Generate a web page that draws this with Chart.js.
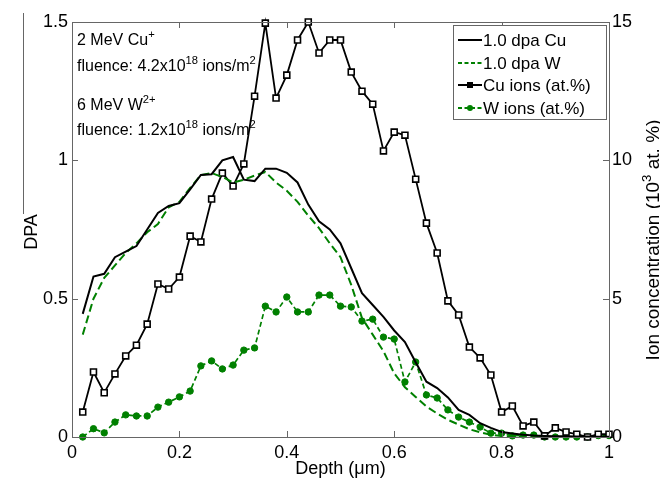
<!DOCTYPE html>
<html>
<head>
<meta charset="utf-8">
<script src="https://cdn.jsdelivr.net/npm/chart.js@4"></script>
<style>
  html, body { margin: 0; padding: 0; background: #fff; }
  #wrap { width: 660px; height: 479px; }
</style>
</head>
<body>
<div id="wrap"><canvas id="chart" width="660" height="479"></canvas></div>
<script>
// depth in um
const depth = [0.02, 0.04, 0.06, 0.08, 0.10, 0.12, 0.14, 0.16, 0.18, 0.20,
               0.22, 0.24, 0.26, 0.28, 0.30, 0.32, 0.34, 0.36, 0.38, 0.40,
               0.42, 0.44, 0.46, 0.48, 0.50, 0.52, 0.54, 0.56, 0.58, 0.60,
               0.62, 0.64, 0.66, 0.68, 0.70, 0.72, 0.74, 0.76, 0.78, 0.80,
               0.82, 0.84, 0.86, 0.88, 0.90, 0.92, 0.94, 0.96, 0.98, 1.00];

// damage (left axis)
const dpaCu = [0.445, 0.58, 0.59, 0.65, 0.67, 0.69, 0.75, 0.81, 0.835, 0.845,
               0.895, 0.947, 0.95, 1.0, 1.012, 0.93, 0.925, 0.97, 0.97, 0.955,
               0.92, 0.84, 0.78, 0.75, 0.70, 0.61, 0.52, 0.477, 0.434, 0.385,
               0.343, 0.27, 0.20, 0.177, 0.143, 0.098, 0.08, 0.05, 0.033, 0.018,
               0.013, 0.008, 0.005, 0.004, 0.003, 0.003, 0.002, 0.002, 0.001, 0.001];
const dpaW  = [0.37, 0.50, 0.575, 0.62, 0.665, 0.70, 0.74, 0.77, 0.83, 0.85,
               0.90, 0.947, 0.954, 0.94, 0.92, 0.93, 0.945, 0.958, 0.92, 0.89,
               0.85, 0.80, 0.755, 0.70, 0.65, 0.55, 0.43, 0.37, 0.31, 0.23,
               0.18, 0.145, 0.11, 0.085, 0.062, 0.045, 0.028, 0.017, 0.008, 0.004,
               0.002, 0.001, 0.001, 0.001, 0, 0, 0, 0, 0, 0];

// implanted ions (right axis)
const cuIons = [0.9, 2.35, 1.6, 2.28, 2.93, 3.32, 4.08, 5.53, 5.35, 5.78,
                7.26, 7.05, 8.6, 9.54, 9.07, 9.87, 12.32, 14.96, 12.25, 13.08,
                14.35, 15.0, 13.88, 14.35, 14.35, 13.19, 12.5, 12.03, 10.34, 11.02,
                10.91, 9.32, 7.73, 6.65, 4.92, 4.41, 3.25, 2.86, 2.24, 0.9,
                1.12, 0.4, 0.54, 0.04, 0.33, 0.18, 0.1, 0, 0.1, 0.1];
const wIons  = [0, 0.3, 0.15, 0.54, 0.8, 0.76, 0.76, 1.08, 1.26, 1.45,
                1.66, 2.57, 2.75, 2.46, 2.6, 3.14, 3.22, 4.73, 4.52, 5.06,
                4.52, 4.52, 5.13, 5.13, 4.73, 4.7, 4.19, 4.26, 3.61, 3.54,
                1.99, 2.71, 1.52, 1.41, 0.98, 0.72, 0.54, 0.36, 0.14, 0.14,
                0.04, 0.07, 0.07, 0, 0, 0, 0, 0, 0.05, 0.05];

const xTicks = [0, 0.2, 0.4, 0.6, 0.8, 1];
const yTicks = [0, 0.5, 1, 1.5];
const y2Ticks = [0, 5, 10, 15];

const labels = ['1.0 dpa Cu', '1.0 dpa W', 'Cu ions (at.%)', 'W ions (at.%)'];

const GREEN = 'rgb(0,128,0)';
const FONT = "'Liberation Sans', Arial, sans-serif";

function pts(ys) { return depth.map((d, i) => ({ x: d, y: ys[i] })); }
function fmt(v) { return String(+v.toFixed(2)); }

// text with superscripts, parts = [[text, isSup], ...]
function richWidth(ctx, parts, size) {
  let w = 0;
  parts.forEach(p => {
    ctx.font = (p[1] ? size * 0.7 : size) + 'px ' + FONT;
    w += ctx.measureText(p[0]).width;
  });
  return w;
}
function drawRich(ctx, parts, x, y, size) {
  parts.forEach(p => {
    const s = p[1] ? size * 0.7 : size;
    ctx.font = s + 'px ' + FONT;
    ctx.fillText(p[0], x, p[1] ? y - size * 0.42 : y);
    x += ctx.measureText(p[0]).width;
  });
}

const decor = {
  id: 'decor',
  afterDraw(chart) {
    const ctx = chart.ctx;
    const a = chart.chartArea;
    const sx = chart.scales.x, sy = chart.scales.y, sy2 = chart.scales.y2;
    ctx.save();

    // axes box + inward ticks
    ctx.strokeStyle = '#666';
    ctx.lineWidth = 1;
    ctx.strokeRect(a.left + 0.5, a.top + 0.5, a.right - a.left, a.bottom - a.top);
    ctx.beginPath();
    xTicks.forEach(t => {
      const px = Math.round(sx.getPixelForValue(t)) + 0.5;
      ctx.moveTo(px, a.bottom); ctx.lineTo(px, a.bottom - 6);
      ctx.moveTo(px, a.top); ctx.lineTo(px, a.top + 6);
    });
    yTicks.forEach(t => {
      const py = Math.round(sy.getPixelForValue(t)) + 0.5;
      ctx.moveTo(a.left, py); ctx.lineTo(a.left + 6, py);
    });
    y2Ticks.forEach(t => {
      const py = Math.round(sy2.getPixelForValue(t)) + 0.5;
      ctx.moveTo(a.right, py); ctx.lineTo(a.right - 6, py);
    });
    // stray line left of the DPA label
    ctx.moveTo(23.5, 13); ctx.lineTo(23.5, 214);
    ctx.stroke();

    ctx.fillStyle = '#000';
    ctx.textBaseline = 'alphabetic';

    // axis titles
    ctx.font = '18px ' + FONT;
    ctx.textAlign = 'center';
    ctx.fillText('Depth (\u03bcm)', (a.left + a.right) / 2, 474);
    ctx.save();
    ctx.translate(37, 232);
    ctx.rotate(-Math.PI / 2);
    ctx.fillText('DPA', 0, 0);
    ctx.restore();

    ctx.textAlign = 'left';
    const rt = [['Ion concentration (10', false], ['3', true], [' at. %)', false]];
    ctx.save();
    ctx.translate(659, 240);
    ctx.rotate(-Math.PI / 2);
    drawRich(ctx, rt, -richWidth(ctx, rt, 19) / 2, 0, 19);
    ctx.restore();

    // beam annotations
    drawRich(ctx, [['2 MeV Cu', false], ['+', true]], 77, 45, 16);
    drawRich(ctx, [['fluence: 4.2x10', false], ['18', true], [' ions/m', false], ['2', true]], 77, 71, 16);
    drawRich(ctx, [['6 MeV W', false], ['2+', true]], 77, 110, 16);
    drawRich(ctx, [['fluence: 1.2x10', false], ['18', true], [' ions/m', false], ['2', true]], 77, 135, 16);

    // legend
    const lx = 453, ly = 25, lw = 153, lh = 94;
    ctx.fillStyle = '#fff';
    ctx.fillRect(lx, ly, lw, lh);
    ctx.strokeStyle = '#666';
    ctx.strokeRect(lx + 0.5, ly + 0.5, lw, lh);
    const rows = [40, 63, 85, 108];
    chart.data.datasets.forEach((ds, i) => {
      const y = rows[i];
      ctx.strokeStyle = ds.borderColor;
      ctx.lineWidth = 2;
      ctx.setLineDash(ds.borderDash ? [4, 2.5] : []);
      ctx.beginPath();
      ctx.moveTo(458, y); ctx.lineTo(482, y);
      ctx.stroke();
      ctx.setLineDash([]);
      if (ds.pointStyle === 'rect') {
        ctx.fillStyle = ds.borderColor;
        ctx.fillRect(467, y - 3, 6, 6);
      } else if (ds.pointStyle === 'circle') {
        ctx.fillStyle = ds.borderColor;
        ctx.beginPath(); ctx.arc(470, y, 3, 0, Math.PI * 2); ctx.fill();
      }
      ctx.fillStyle = '#000';
      ctx.font = '17px ' + FONT;
      ctx.textBaseline = 'middle';
      ctx.fillText(ds.label, 483, y + 1);
    });
    ctx.restore();
  }
};

const tickFont = { family: FONT, size: 18 };

new Chart(document.getElementById('chart'), {
  type: 'line',
  data: {
    datasets: [
      { label: labels[0], data: pts(dpaCu), yAxisID: 'y', borderColor: '#000', borderWidth: 2,
        pointRadius: 0, fill: false },
      { label: labels[1], data: pts(dpaW), yAxisID: 'y', borderColor: GREEN, borderWidth: 2,
        borderDash: [8, 4], pointRadius: 0, fill: false },
      { label: labels[2], data: pts(cuIons), yAxisID: 'y2', borderColor: '#000', borderWidth: 1.8,
        pointStyle: 'rect', pointRadius: 4.2, pointBackgroundColor: '#fff',
        pointBorderColor: '#000', pointBorderWidth: 1.6, fill: false, clip: 6 },
      { label: labels[3], data: pts(wIons), yAxisID: 'y2', borderColor: GREEN, borderWidth: 1.7,
        borderDash: [5, 3], pointStyle: 'circle', pointRadius: 3.2, pointBackgroundColor: GREEN,
        pointBorderColor: GREEN, pointBorderWidth: 1, fill: false, clip: 6 }
    ]
  },
  options: {
    responsive: false,
    animation: false,
    layout: { padding: { top: 22, left: 0, right: 0, bottom: 0 } },
    plugins: { legend: { display: false }, tooltip: { enabled: false } },
    scales: {
      x: {
        type: 'linear', min: 0, max: 1,
        afterBuildTicks: s => { s.ticks = xTicks.map(v => ({ value: v })); },
        afterFit: s => { s.height = 42; },
        grid: { display: false, drawTicks: false },
        border: { display: false },
        ticks: { font: tickFont, color: '#000', padding: 5, callback: fmt }
      },
      y: {
        min: 0, max: 1.5,
        afterBuildTicks: s => { s.ticks = yTicks.map(v => ({ value: v })); },
        afterFit: s => { s.width = 72; },
        grid: { display: false, drawTicks: false },
        border: { display: false },
        ticks: { font: tickFont, color: '#000', padding: 4, callback: fmt }
      },
      y2: {
        position: 'right', min: 0, max: 15,
        afterBuildTicks: s => { s.ticks = y2Ticks.map(v => ({ value: v })); },
        afterFit: s => { s.width = 51; },
        grid: { display: false, drawTicks: false },
        border: { display: false },
        ticks: { font: tickFont, color: '#000', padding: 3, callback: fmt }
      }
    }
  },
  plugins: [decor]
});
</script>
</body>
</html>
